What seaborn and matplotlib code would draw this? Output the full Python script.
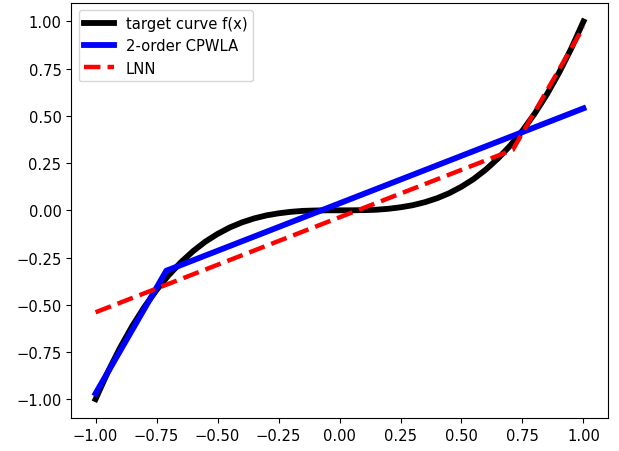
import matplotlib
matplotlib.use("Agg")
import matplotlib.pyplot as plt
import seaborn as sns

plt.rcParams["font.size"] = 10.6

# target curve samples
target_x = [-1.00, -0.95, -0.90, -0.85, -0.80, -0.75, -0.70, -0.65, -0.60, -0.55,
            -0.50, -0.45, -0.40, -0.35, -0.30, -0.25, -0.20, -0.15, -0.10, -0.05,
            0.00, 0.05, 0.10, 0.15, 0.20, 0.25, 0.30, 0.35, 0.40, 0.45,
            0.50, 0.55, 0.60, 0.65, 0.70, 0.75, 0.80, 0.85, 0.90, 0.95, 1.00]
target_y = [-1.000, -0.857, -0.729, -0.614, -0.512, -0.422, -0.343, -0.275, -0.216, -0.166,
            -0.125, -0.091, -0.064, -0.043, -0.027, -0.016, -0.008, -0.003, -0.001, -0.000,
            0.000, 0.000, 0.001, 0.003, 0.008, 0.016, 0.027, 0.043, 0.064, 0.091,
            0.125, 0.166, 0.216, 0.275, 0.343, 0.422, 0.512, 0.614, 0.729, 0.857, 1.000]

cpwla_x = [-1.00, -0.71, 1.00]
cpwla_y = [-0.97, -0.32, 0.54]

lnn_x = [-1.00, 0.71, 1.00]
lnn_y = [-0.54, 0.32, 0.97]

ticks = [-1.0, -0.75, -0.5, -0.25, 0.0, 0.25, 0.5, 0.75, 1.0]

fig, ax = plt.subplots(figsize=(6.19, 4.52), dpi=100)
fig.subplots_adjust(left=0.115, right=0.982, top=0.992, bottom=0.073)

sns.lineplot(x=target_x, y=target_y, ax=ax, color="black", lw=4.2, sort=False,
             label="target curve f(x)")
sns.lineplot(x=cpwla_x, y=cpwla_y, ax=ax, color="blue", lw=4.2, sort=False,
             label="2-order CPWLA")
sns.lineplot(x=lnn_x, y=lnn_y, ax=ax, color="red", lw=3.2, sort=False,
             label="LNN")
ax.lines[2].set_linestyle("--")

ax.set_xticks(ticks)
ax.set_yticks(ticks)
ax.set_xlim(-1.1, 1.1)
ax.set_ylim(-1.1, 1.1)
leg = ax.legend(loc="upper left")
leg.get_lines()[2].set_linestyle("--")
fig.savefig("out.png", dpi=100)
